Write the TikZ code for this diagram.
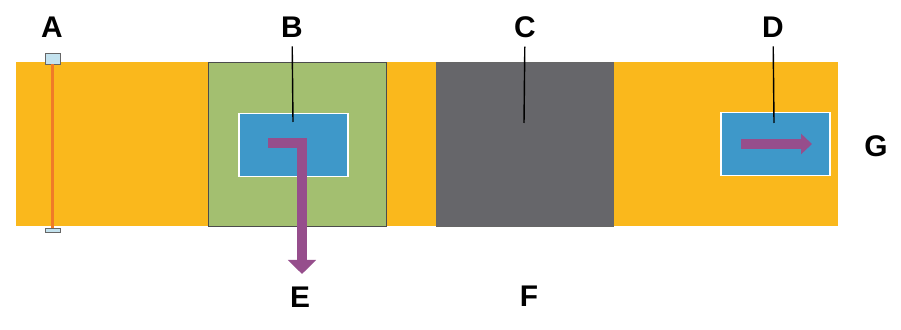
\documentclass[tikz,border=0pt]{standalone}
\usepackage{fontspec}
\setmainfont{Liberation Sans}
\usepackage{xcolor}
\usetikzlibrary{arrows.meta,positioning}

\definecolor{bandorange}{RGB}{250,184,28}
\definecolor{stationgreen}{RGB}{163,191,112}
\definecolor{cellblue}{RGB}{62,152,201}
\definecolor{blockgray}{RGB}{102,102,106}
\definecolor{flowpurple}{RGB}{150,78,140}
\definecolor{markred}{RGB}{240,122,40}
\definecolor{capblue}{RGB}{195,226,238}

\begin{document}
\begin{tikzpicture}[
    x=0.2mm, y=-0.2mm,
    % conveyor band
    band/.style={rectangle, fill=bandorange, minimum width=16.44cm, minimum height=3.28cm, inner sep=0pt},
    % stations on the band
    station/.style={rectangle, fill=stationgreen, draw=black!70, line width=0.5pt,
        minimum width=3.56cm, minimum height=3.28cm, inner sep=0pt},
    block/.style={rectangle, fill=blockgray, draw=black!60, line width=0.4pt,
        minimum width=3.54cm, minimum height=3.28cm, inner sep=0pt},
    cell/.style={rectangle, fill=cellblue, draw=white, line width=1pt,
        minimum width=2.18cm, minimum height=1.26cm, inner sep=0pt},
    % end caps of the marker
    endcap/.style={rectangle, fill=capblue, draw=gray!80!black, line width=0.4pt,
        minimum width=0.3cm, inner sep=0pt},
    % letters and leader lines
    tag/.style={font=\bfseries\fontsize{17}{19}\selectfont, inner sep=5pt},
    leader/.style={draw=black, line width=0.8pt},
    flow/.style={draw=flowpurple, line join=miter}
]
    \useasboundingbox (0,0) rectangle (901,330);

    % band and stations
    \node[band] (belt) at (427,144) {};
    \node[station] (stationB) at (297,144) {};
    \node[cell] (cellB) at (293.5,145) {};
    \node[block] (blockC) at (524.5,144) {};
    \node[cell] (cellD) at (775.5,144) {};

    % marker A
    \node[endcap, minimum height=0.22cm] (capTop) at (52.5,58.5) {};
    \node[endcap, minimum height=0.08cm] (capBot) at (52.5,230) {};
    \draw[markred, line width=1.2pt] (capTop.south) -- (capBot.north);

    % purple flow arrows
    \coordinate (flowB0) at (268,143);
    \coordinate (flowB1) at (302,143);
    \coordinate (flowB2) at (302,274);
    \draw[flow, line width=0.21cm, -{Triangle[width=0.55cm, length=0.28cm]}]
        (flowB0) -- (flowB1) -- (flowB2);
    \coordinate (flowD0) at (741,144);
    \coordinate (flowD1) at (812,144);
    \draw[flow, line width=0.19cm, -{Triangle[width=0.4cm, length=0.22cm]}]
        (flowD0) -- (flowD1);

    % letters
    \node[tag] (labA) at (52,27) {A};
    \node[tag] (labB) at (292,27) {B};
    \node[tag] (labC) at (525,27) {C};
    \node[tag] (labD) at (773,27) {D};
    \node[tag] (labE) at (300,297) {E};
    \node[tag] (labF) at (529,296) {F};
    \node[tag] (labG) at (876,146) {G};

    % leader lines
    \coordinate (ptB) at (293,122);
    \coordinate (ptC) at (524,123);
    \coordinate (ptD) at (774,123);
    \draw[leader] (labB) -- (ptB);
    \draw[leader] (labC) -- (ptC);
    \draw[leader] (labD) -- (ptD);
\end{tikzpicture}
\end{document}
